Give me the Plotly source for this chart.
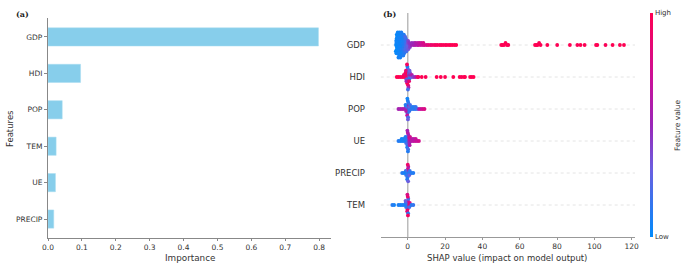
import math
import plotly.graph_objects as go

# ---------------- Panel (a): feature importance ----------------
imp_features = ["PRECIP", "UE", "TEM", "POP", "HDI", "GDP"]
imp_values = [0.017, 0.022, 0.024, 0.042, 0.096, 0.798]
imp_ticks = [0.0, 0.1, 0.2, 0.3, 0.4, 0.5, 0.6, 0.7, 0.8]

# ---------------- Panel (b): SHAP beeswarm ----------------
shap_features = ["TEM", "PRECIP", "UE", "POP", "HDI", "GDP"]  # bottom -> top
shap_ticks = [0, 20, 40, 60, 80, 100, 120]

gdp_shap = [
    -6.3, -6.1, -5.9, -6.2, -5.8, -6.0, -6.4, -5.7, -6.1, -5.9,
    -5.2, -4.9, -5.1, -4.8, -5.3, -5.0, -4.7, -5.2, -4.9, -5.1, -4.6, -5.4, -5.0,
    -4.2, -3.9, -4.1, -3.8, -4.3, -4.0, -3.7, -4.2, -3.9, -4.1, -3.6, -4.4, -4.0,
    -3.2, -2.9, -3.1, -2.8, -3.3, -3.0, -2.7, -3.2, -2.9, -3.1, -2.6, -3.4,
    -2.2, -1.9, -2.1, -1.8, -2.3, -2.0, -1.7, -2.2, -1.9, -2.1, -2.4,
    -1.2, -0.9, -1.1, -0.8, -1.3, -1.0, -0.7, -1.4,
    -0.2, 0.1, -0.1, 0.2, 0.3,
    1.1, 0.8, 1.2,
    2.0, 2.2,
    3.1, 4.0, 5.1, 5.9, 7.0, 8.1, 9.0, 10.1, 11.0, 12.1, 13.0, 14.1,
    15.0, 15.9, 17.1, 18.0, 19.0, 20.1, 21.0, 22.1, 23.0, 24.0, 25.1, 26.0,
    3.4, 4.3, 5.4, 6.3, 7.3, 8.4,
    50.1, 50.8, 51.6, 52.4, 53.2, 53.9, 68.2, 68.9, 69.6, 70.4, 71.2, 74.8,
    80.1, 86.9, 90.9, 92.6, 94.8, 100.9, 101.6, 106.0, 109.8, 113.7, 115.9,
]
gdp_fval = [
    0.02, 0.04, 0.03, 0.05, 0.02, 0.03, 0.01, 0.04, 0.03, 0.02,
    0.03, 0.05, 0.02, 0.04, 0.03, 0.06, 0.02, 0.04, 0.05, 0.03, 0.02, 0.04, 0.06,
    0.05, 0.04, 0.06, 0.03, 0.05, 0.07, 0.04, 0.06, 0.05, 0.03, 0.08, 0.04, 0.06,
    0.06, 0.08, 0.05, 0.07, 0.09, 0.06, 0.08, 0.07, 0.05, 0.09, 0.06, 0.08,
    0.08, 0.10, 0.12, 0.09, 0.11, 0.10, 0.13, 0.08, 0.12, 0.10, 0.09,
    0.15, 0.18, 0.20, 0.16, 0.22, 0.17, 0.19, 0.21,
    0.30, 0.35, 0.28, 0.40, 0.33,
    0.40, 0.45, 0.42,
    0.50, 0.48,
    0.55, 0.58, 0.62, 0.65, 0.70, 0.72, 0.76, 0.80, 0.84, 0.88, 0.90, 0.92,
    0.94, 0.95, 0.96, 0.97, 0.97, 0.98, 0.98, 0.99, 0.99, 1.0, 1.0, 1.0,
    0.50, 0.60, 0.62, 0.68, 0.72, 0.78,
    1.0, 0.98, 1.0, 0.99, 1.0, 0.98, 1.0, 0.99, 1.0, 0.98, 1.0, 1.0,
    0.99, 1.0, 0.98, 1.0, 0.99, 1.0, 1.0, 0.98, 1.0, 0.99, 1.0,
]

hdi_shap = [
    0.0, 0.2, -0.2, 0.1, -0.1, 0.3, -0.3, 0.0, 0.2, -0.2, 0.4, -0.4, 0.1,
    -0.8, -1.1, -0.9, -1.2, -0.7, -1.0,
    0.8, 1.1, 0.9, 1.2, 0.7, 1.0,
    -2.0, -2.1, -3.0, -4.0, -5.0, -5.9,
    2.0, 2.2, 3.0, 4.0, 5.1, 5.7,
    7.5, 9.6, 15.5, 17.7, 20.0, 24.4, 27.8, 28.9, 30.2, 30.7, 33.4, 34.3, 35.3,
]
hdi_fval = [
    0.9, 0.1, 0.95, 0.2, 0.85, 0.15, 1.0, 0.3, 0.9, 0.05, 0.6, 0.95, 0.2,
    0.95, 0.9, 0.2, 1.0, 0.6, 0.85,
    0.2, 0.5, 0.1, 0.4, 0.9, 0.3,
    0.95, 0.9, 1.0, 0.95, 1.0, 1.0,
    0.3, 0.6, 0.4, 0.55, 0.9, 0.95,
    1.0, 0.98, 1.0, 1.0, 0.99, 1.0, 1.0, 0.98, 1.0, 1.0, 0.99, 1.0, 1.0,
]

pop_shap = [
    0.0, 0.2, -0.2, 0.1, -0.1, 0.3, -0.3, 0.0, 0.2, -0.2, 0.1,
    -0.8, -1.1, -0.9, -1.2,
    0.8, 1.1, 0.9, 1.2,
    -2.0, -3.0, -4.0, -5.0,
    2.0, 3.0, 4.0, 5.0, 6.0, 7.0, 8.0, 9.0,
    2.3, 3.3, 4.3,
]
pop_fval = [
    0.1, 0.2, 0.05, 0.6, 0.1, 0.15, 0.7, 0.1, 0.2, 0.05, 0.3,
    0.5, 0.2, 0.6, 0.1,
    0.1, 0.3, 0.15, 0.2,
    0.55, 0.6, 0.6, 0.55,
    0.1, 0.15, 0.1, 0.2, 0.6, 0.7, 0.75, 0.8,
    0.12, 0.1, 0.15,
]

ue_shap = [
    0.0, 0.2, -0.2, 0.1, -0.1, 0.3, -0.3, 0.0, 0.2, -0.2, 0.1,
    -0.8, -1.1, -0.9, -1.2,
    0.8, 1.1, 0.9, 1.2, 1.0,
    -2.0, -3.0, -4.0, -5.0, -2.3, -3.3,
    2.0, 3.0, 4.0, 5.0, 6.0, 2.3, 3.3, 4.3,
]
ue_fval = [
    0.2, 0.6, 0.1, 0.7, 0.15, 0.5, 0.1, 0.65, 0.2, 0.55, 0.1,
    0.1, 0.15, 0.2, 0.1,
    0.6, 0.7, 0.5, 0.75, 0.6,
    0.05, 0.08, 0.05, 0.1, 0.1, 0.05,
    0.6, 0.65, 0.7, 0.7, 0.75, 0.65, 0.6, 0.7,
]

precip_shap = [
    0.0, 0.2, -0.2, 0.1, -0.1, 0.3, -0.3, 0.0, 0.2,
    -0.8, -1.1, -0.9,
    0.8, 1.1, 0.9,
    -2.0, -3.0,
    2.0, 3.0,
]
precip_fval = [
    0.1, 0.7, 0.2, 0.8, 0.15, 0.6, 0.1, 0.9, 0.3,
    0.1, 0.2, 0.15,
    0.1, 0.15, 0.3,
    0.05, 0.1,
    0.1, 0.1,
]

tem_shap = [
    0.0, 0.2, -0.2, 0.1, -0.1, 0.3, -0.3, 0.0, 0.2, -0.2, 0.1,
    -0.8, -1.1, -0.9, -1.2,
    0.8, 1.1, 0.9,
    -2.0, -3.0, -4.0, -5.0, -7.3, -8.3,
    2.0, 3.0,
]
tem_fval = [
    0.9, 0.8, 1.0, 0.7, 0.95, 0.2, 0.85, 0.9, 0.1, 0.8, 0.95,
    0.1, 0.2, 0.15, 0.3,
    0.9, 0.8, 0.2,
    0.05, 0.1, 0.05, 0.08, 0.05, 0.1,
    0.1, 0.15,
]

shap_data = {
    "TEM": (tem_shap, tem_fval),
    "PRECIP": (precip_shap, precip_fval),
    "UE": (ue_shap, ue_fval),
    "POP": (pop_shap, pop_fval),
    "HDI": (hdi_shap, hdi_fval),
    "GDP": (gdp_shap, gdp_fval),
}

# shap red_blue colormap (approx.)
red_blue = [
    [0.0, "#008bfb"],
    [0.3, "#6a5fe0"],
    [0.5, "#9a27b8"],
    [0.7, "#c8119a"],
    [1.0, "#ff0052"],
]

# beeswarm layout: stack points that share an x-bin around their row
BIN_W = 1.0
LAYER = 0.065
xs, ys, cs = [], [], []
for row, name in enumerate(shap_features):
    sv, fv = shap_data[name]
    layers = {}
    for x, c in zip(sv, fv):
        b = round(x / BIN_W)
        k = layers.get(b, 0)
        layers[b] = k + 1
        off = math.ceil(k / 2) * (1 if k % 2 == 1 else -1)
        xs.append(x)
        ys.append(row + off * LAYER)
        cs.append(c)

TXT = "#333333"
W, H = 685, 264


def px(x):
    return x / W


def py(y):
    return 1 - y / H


def label(text, x, y, size, angle=0, family="DejaVu Sans", color=TXT):
    return dict(text=text, x=px(x), y=py(y), xref="paper", yref="paper",
                xanchor="center", yanchor="middle", textangle=angle,
                showarrow=False, font=dict(family=family, size=size, color=color))


fig = go.Figure()

fig.add_trace(go.Bar(
    x=imp_values, y=imp_features, orientation="h", width=0.5,
    marker=dict(color="#87ceeb", line=dict(color="#a9dcf0", width=0.5)),
    xaxis="x", yaxis="y", showlegend=False,
))

fig.add_trace(go.Scatter(
    x=xs, y=ys, mode="markers", xaxis="x2", yaxis="y2", showlegend=False,
    marker=dict(
        size=3.8, color=cs, colorscale=red_blue, cmin=0, cmax=1,
        line=dict(width=0),
        colorbar=dict(
            x=px(650), xanchor="left", xpad=0, ypad=0,
            y=py(125), yanchor="middle", len=224 / H, lenmode="fraction",
            thickness=3, outlinewidth=0,
            tickvals=[0, 1], ticktext=["Low", "High"], ticks="",
            tickfont=dict(size=7, color=TXT, family="DejaVu Sans"),
        ),
    ),
))

shapes = []
for row in range(len(shap_features)):
    shapes.append(dict(type="line", xref="x2", yref="y2", x0=-14.5, x1=121.8,
                       y0=row, y1=row, line=dict(color="#dddddd", width=0.8, dash="dot"),
                       layer="below"))
shapes.append(dict(type="line", xref="x2", yref="y2", x0=0, x1=0, y0=-1, y1=6,
                   line=dict(color="#bbbbbb", width=1.5), layer="below"))

fig.update_layout(
    width=W, height=H,
    margin=dict(l=0, r=0, t=0, b=0, autoexpand=False),
    paper_bgcolor="white", plot_bgcolor="white",
    font=dict(family="DejaVu Sans", color=TXT),
    xaxis=dict(
        domain=[px(48), px(331)], range=[0, 0.835], automargin=False,
        tickvals=imp_ticks, tickformat=".1f",
        showgrid=False, zeroline=False,
        showline=True, linecolor="#888888", linewidth=1.2,
        ticks="outside", ticklen=2, tickcolor="#888888",
        tickfont=dict(size=7.5, color=TXT),
        anchor="y",
    ),
    yaxis=dict(
        domain=[py(238), py(18)], range=[-0.52, 5.52], automargin=False,
        type="category", categoryorder="array", categoryarray=imp_features,
        showgrid=False, zeroline=False,
        showline=True, linecolor="#888888", linewidth=1.2,
        ticks="outside", ticklen=3, tickcolor="#888888",
        tickfont=dict(size=7.5, color=TXT),
        anchor="x",
    ),
    xaxis2=dict(
        domain=[px(380.7), px(635)], range=[-14.5, 121.8], automargin=False,
        tickvals=shap_ticks,
        showgrid=False, zeroline=False,
        showline=True, linecolor="#999999", linewidth=1,
        ticks="outside", ticklen=2, tickcolor="#999999",
        tickfont=dict(size=7.5, color=TXT),
        anchor="y2",
    ),
    yaxis2=dict(
        domain=[py(237), py(13)], range=[-1, 6], automargin=False,
        tickvals=list(range(len(shap_features))), ticktext=shap_features,
        showgrid=False, zeroline=False, showline=False,
        ticks="outside", ticklen=13, tickcolor="rgba(0,0,0,0)",
        tickfont=dict(size=8.5, color=TXT),
        anchor="x2",
    ),
    shapes=shapes,
    annotations=[
        label("<b>(a)</b>", 22, 14, 8, family="DejaVu Serif", color="#222222"),
        label("<b>(b)</b>", 389, 14, 8, family="DejaVu Serif", color="#222222"),
        label("Importance", 190, 257.5, 8.8),
        label("Features", 10, 129, 8.5, angle=-90),
        label("SHAP value (impact on model output)", 507, 257.5, 8.5),
        label("Feature value", 677, 125, 7.5, angle=-90),
    ],
)

fig.write_html(
    "out.html",
    config={"displayModeBar": False},
    post_script="document.body.style.margin='0';document.body.style.padding='0';",
)
